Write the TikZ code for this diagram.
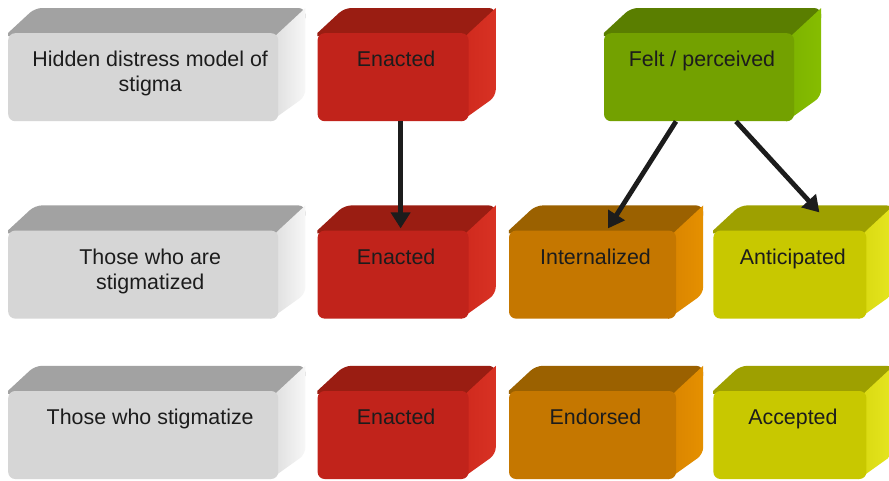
\documentclass[tikz,border=0pt]{standalone}
\usepackage{fontspec}
\setmainfont{Liberation Sans}
\usepackage{tikz}
\usetikzlibrary{arrows.meta,positioning,backgrounds,calc}

\definecolor{ink}{HTML}{1C1C1C}
\definecolor{grayf}{HTML}{D6D6D6}
\definecolor{grayt}{HTML}{A2A2A2}
\definecolor{grays}{HTML}{DCDCDC}
\definecolor{grayl}{HTML}{F7F7F7}
\definecolor{redf}{HTML}{C1231B}
\definecolor{redt}{HTML}{9A1D12}
\definecolor{reds}{HTML}{CF291D}
\definecolor{redl}{HTML}{D83224}
\definecolor{orf}{HTML}{C57700}
\definecolor{ort}{HTML}{9B6100}
\definecolor{ors}{HTML}{D98400}
\definecolor{orl}{HTML}{E59000}
\definecolor{grf}{HTML}{73A100}
\definecolor{grt}{HTML}{5A7E00}
\definecolor{grs}{HTML}{7CB200}
\definecolor{grl}{HTML}{86BD00}
\definecolor{yef}{HTML}{C8C800}
\definecolor{yet}{HTML}{9EA000}
\definecolor{yes}{HTML}{D8D810}
\definecolor{yel}{HTML}{E6E620}

% top and side faces behind a front node
\newcommand{\cubeback}[4]{%
  \fill[#2] ([yshift=-3pt]#1.north west) -- (#1.north west) [rounded corners=7pt] -- ++(27,-25)
    -- ([shift={(27,-25)}]#1.north east) [sharp corners] -- ([shift={(27,-15)}]#1.north east)
    -- ([yshift=-3pt]#1.north east) -- cycle;
  \shade[left color=#3, right color=#4] (#1.north east) -- ++(27,-25) [rounded corners=7pt]
    -- ([shift={(27,-25)}]#1.south east) [sharp corners] -- ([xshift=-8pt]#1.south east)
    -- ([xshift=-8pt,yshift=-8pt]#1.north east) -- cycle;
}

\begin{document}
\begin{tikzpicture}[x=1pt,y=-1pt,
    cube/.style={fill=#1, rounded corners=7pt, inner sep=0pt, minimum height=88pt},
    lbl/.style={anchor=north, inner sep=0pt, yshift=-18pt, xshift=3pt, align=center,
      text=ink, font=\fontsize{21.4}{25}\selectfont},
    arr/.style={-{Triangle[length=16pt,width=19pt]}, line width=4.8pt, draw=ink}]
  \useasboundingbox (0,0) rectangle (889,480);

  % row 1
  \node[cube=grayf, minimum width=270pt, anchor=north west,
    label={[lbl, xshift=4pt]north:{Hidden distress model of\\stigma}}] (hd) at (8,33) {};
  \node[cube=redf, minimum width=151pt, right=39pt of hd, label={[lbl]north:Enacted}] (en1) {};
  \node[cube=grf, minimum width=190pt, right=135pt of en1, label={[lbl]north:Felt / perceived}] (fp) {};

  % row 2
  \node[cube=grayf, minimum width=270pt, below=109pt of hd,
    label={[lbl, xshift=4pt]north:{Those who are\\stigmatized}}] (th) {};
  \node[cube=redf, minimum width=151pt, right=39pt of th, label={[lbl]north:Enacted}] (en2) {};
  \node[cube=orf, minimum width=167pt, right=40pt of en2, label={[lbl]north:Internalized}] (int) {};
  \node[cube=yef, minimum width=153pt, right=37pt of int, label={[lbl]north:Anticipated}] (an) {};

  % row 3
  \node[cube=grayf, minimum width=270pt, below=72pt of th,
    label={[lbl, xshift=4pt]north:Those who stigmatize}] (ts) {};
  \node[cube=redf, minimum width=151pt, right=39pt of ts, label={[lbl]north:Enacted}] (en3) {};
  \node[cube=orf, minimum width=167pt, right=40pt of en3, label={[lbl]north:Endorsed}] (ed) {};
  \node[cube=yef, minimum width=153pt, right=37pt of ed, label={[lbl]north:Accepted}] (ac) {};

  \begin{pgfonlayer}{background}
    \fill[white] (0,0) rectangle (889,480);
    \cubeback{hd}{grayt}{grays}{grayl}
    \cubeback{th}{grayt}{grays}{grayl}
    \cubeback{ts}{grayt}{grays}{grayl}
    \cubeback{en1}{redt}{reds}{redl}
    \cubeback{en2}{redt}{reds}{redl}
    \cubeback{en3}{redt}{reds}{redl}
    \cubeback{fp}{grt}{grs}{grl}
    \cubeback{int}{ort}{ors}{orl}
    \cubeback{ed}{ort}{ors}{orl}
    \cubeback{an}{yet}{yes}{yel}
    \cubeback{ac}{yet}{yes}{yel}
  \end{pgfonlayer}

  \draw[arr] ([xshift=7.5pt]en1.south) -- ([xshift=7.5pt,yshift=2pt]en2.north);
  \draw[arr] ([xshift=-23pt]fp.south) -- ([xshift=15.5pt,yshift=2pt]int.north);
  \draw[arr] ([xshift=37pt]fp.south) -- ([xshift=29.5pt,yshift=18pt]an.north);
\end{tikzpicture}
\end{document}
